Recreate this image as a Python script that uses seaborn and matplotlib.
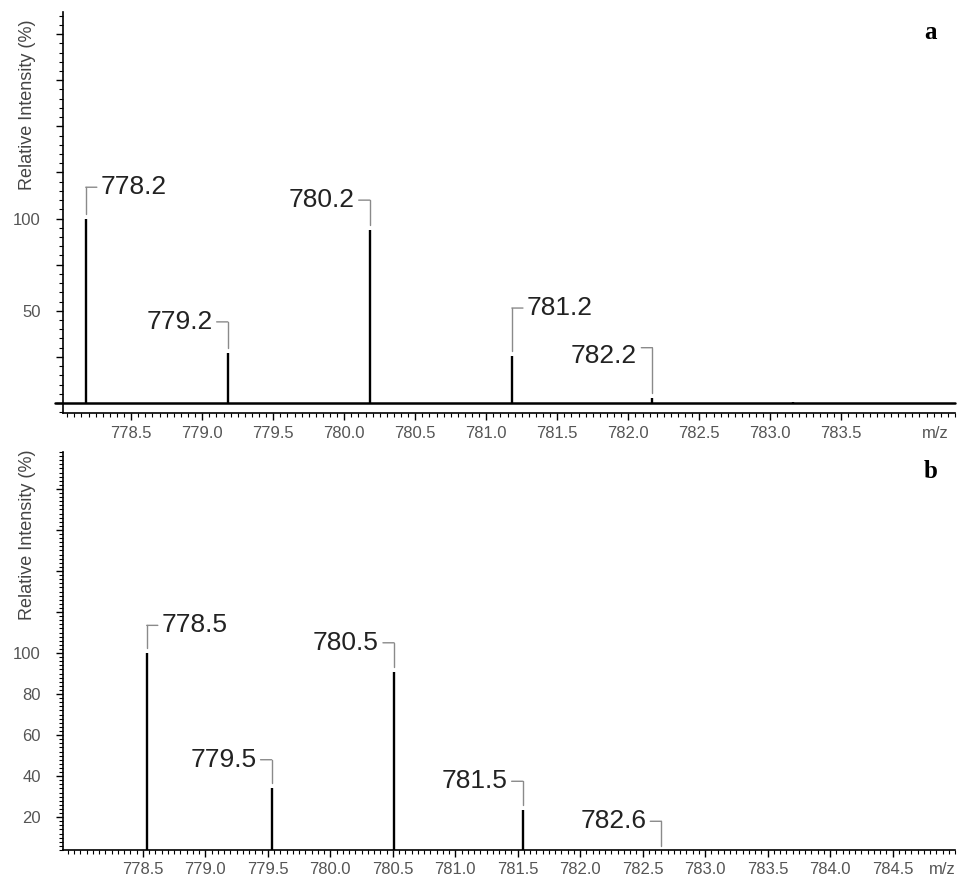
import matplotlib
matplotlib.use("Agg")
import matplotlib.pyplot as plt
import seaborn as sns
from matplotlib.ticker import MultipleLocator, FixedLocator, NullFormatter

# panel a peaks
a_mz = [778.18, 779.18, 780.18, 781.18, 782.17, 783.16]
a_int = [100, 27, 94, 25.5, 3, 0.8]
a_labels = ["778.2", "779.2", "780.2", "781.2", "782.2", ""]
a_xticks = ["778.5", "779.0", "779.5", "780.0", "780.5", "781.0",
            "781.5", "782.0", "782.5", "783.0", "783.5"]
a_yticks = ["50", "100"]

# panel b peaks
b_mz = [778.53, 779.53, 780.51, 781.54, 782.65]
b_int = [100, 34, 90.7, 23.4, 3.5]
b_labels = ["778.5", "779.5", "780.5", "781.5", "782.6"]
b_xticks = ["778.5", "779.0", "779.5", "780.0", "780.5", "781.0", "781.5",
            "782.0", "782.5", "783.0", "783.5", "784.0", "784.5"]
b_yticks = ["20", "40", "60", "80", "100"]

# label layout (bracket level in data units, side, text nudge in points)
a_lab_y = [117, 44, 110, 51.5, 30, 0]
a_side = ["r", "l", "l", "r", "l", ""]
a_dy = [0, 0, 0, 0, -6, 0]
b_lab_y = [113.5, 48, 105, 37.5, 18]
b_side = ["r", "l", "l", "l", "l"]
b_dy = [0, 0, 0, 0, 0]

sns.set_theme(style="ticks")
plt.rcParams["font.family"] = ["Liberation Sans", "DejaVu Sans"]

GRAY = "#8a8a8a"
TICK_C = "#555555"


def style_axis(ax, xlim, ylim, xt, yt, x_minor, y_major, y_minor, mz_x):
    ax.set_xlim(*xlim)
    ax.set_ylim(*ylim)
    sns.despine(ax=ax)
    for s in ["left", "bottom"]:
        ax.spines[s].set_color("black")
        ax.spines[s].set_linewidth(1.2)
    ax.set_facecolor("white")

    xpos = [float(t) for t in xt]
    ax.xaxis.set_major_locator(FixedLocator(xpos))
    ax.set_xticklabels(xt)
    ax.xaxis.set_minor_locator(MultipleLocator(x_minor))

    ax.yaxis.set_major_locator(MultipleLocator(y_major))
    ax.yaxis.set_minor_locator(MultipleLocator(y_minor))
    shown = [float(t) for t in yt]
    ax.yaxis.set_major_formatter(
        matplotlib.ticker.FuncFormatter(lambda v, p: f"{v:g}" if v in shown else ""))
    ax.yaxis.set_minor_formatter(NullFormatter())

    ax.tick_params(axis="both", which="major", length=5, width=1,
                   color="black", labelcolor=TICK_C, labelsize=12)
    ax.tick_params(axis="both", which="minor", length=2.8, width=0.8, color="black")
    ax.tick_params(axis="x", which="major", pad=4)
    ax.tick_params(axis="y", which="major", pad=11)

    ax.annotate("m/z", xy=(mz_x, 0), xycoords=("data", "axes fraction"),
                xytext=(0, -9), textcoords="offset points",
                ha="center", va="top", fontsize=12, color=TICK_C)


def draw_peaks(ax, mz, inten, labels, lab_y, side, dy, gap):
    ax.vlines(mz, 0, inten, color="black", lw=1.7, zorder=3)
    for x, h, t, ly, s, d in zip(mz, inten, labels, lab_y, side, dy):
        if not t:
            continue
        sign = 1 if s == "r" else -1
        ax.plot([x, x], [h + gap, ly], color=GRAY, lw=1, zorder=2)
        ax.annotate("", xy=(x, ly), xytext=(sign * 8, 0), textcoords="offset points",
                    arrowprops=dict(arrowstyle="-", color=GRAY, lw=1,
                                    shrinkA=0, shrinkB=0))
        ax.annotate(t, xy=(x, ly), xytext=(sign * 11, d), textcoords="offset points",
                    ha="left" if s == "r" else "right", va="center",
                    fontsize=19, color="#222222")


fig = plt.figure(figsize=(9.58, 8.84), dpi=100)
fig.patch.set_facecolor("white")

ax_a = fig.add_axes([63 / 958, 1 - 413 / 884, 892 / 958, 401 / 884])
ax_b = fig.add_axes([63 / 958, 1 - 850 / 884, 892 / 958, 398 / 884])

style_axis(ax_a, (778.02, 784.30), (-5.4, 212), a_xticks, a_yticks,
           0.05, 25, 5, 784.16)
ax_a.axhline(0, color="black", lw=1.8, zorder=3, xmin=-0.009, clip_on=False)
draw_peaks(ax_a, a_mz, a_int, a_labels, a_lab_y, a_side, a_dy, 2.7)

style_axis(ax_b, (777.86, 785.0), (4, 198), b_xticks, b_yticks,
           0.05, 20, 2, 784.9)
draw_peaks(ax_b, b_mz, b_int, b_labels, b_lab_y, b_side, b_dy, 2.5)

for ax, letter in [(ax_a, "a"), (ax_b, "b")]:
    ax.text(0.973, 0.95, letter, transform=ax.transAxes, ha="center", va="center",
            fontsize=18, fontweight="bold", family=["Liberation Serif", "DejaVu Serif"],
            color="black")

fig.text(28 / 958, 1 - 105 / 884, "Relative Intensity (%)", rotation=90,
         ha="center", va="center", fontsize=13, color="#444444")
fig.text(28 / 958, 1 - 535 / 884, "Relative Intensity (%)", rotation=90,
         ha="center", va="center", fontsize=13, color="#444444")

fig.savefig("out.png", dpi=100, facecolor="white")
